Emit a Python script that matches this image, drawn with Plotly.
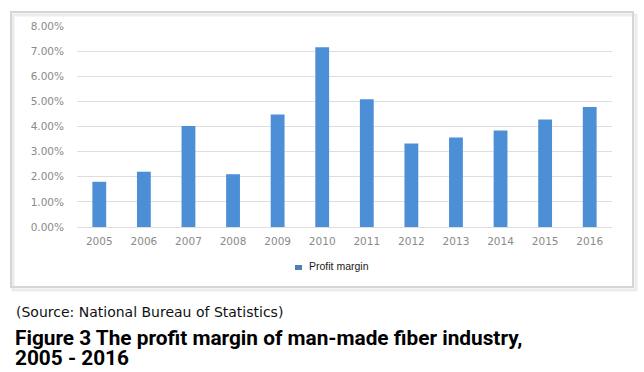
import plotly.graph_objects as go

years = ["2005", "2006", "2007", "2008", "2009", "2010",
         "2011", "2012", "2013", "2014", "2015", "2016"]
profit_margin = [1.80, 2.20, 4.02, 2.10, 4.48, 7.15,
                 5.08, 3.32, 3.56, 3.84, 4.28, 4.78]
series_name = "Profit margin"
source_text = "(Source: National Bureau of Statistics)"
title_line1 = "Figure 3 The profit margin of man-made fiber industry,"
title_line2 = "2005 - 2016"

W, H = 644, 372
L, R, T, B = 77, 32, 26, 145
PW, PH = W - L - R, H - T - B


def px(x):
    return (x - L) / PW


def py(y):
    return (H - B - y) / PH


fig = go.Figure()
fig.add_trace(go.Bar(x=years, y=profit_margin, name=series_name,
                     marker=dict(color="#4C8FD6", line=dict(width=0)),
                     showlegend=False))

tickfont = dict(family="DejaVu Sans, Liberation Sans, sans-serif", size=10.5, color="#8a8a8a")

fig.update_layout(
    width=W, height=H,
    margin=dict(l=L, r=R, t=T, b=B),
    paper_bgcolor="white", plot_bgcolor="white",
    bargap=0.69,
    xaxis=dict(type="category", tickfont=tickfont, showgrid=False,
               showline=False, ticks="", ticklabelstandoff=6),
    yaxis=dict(range=[0, 8], dtick=1, tickformat=".2f", ticksuffix="%",
               tickfont=tickfont, gridcolor="#dedede", gridwidth=1,
               zeroline=True, zerolinecolor="#dedede", zerolinewidth=1,
               showline=False, ticks="", ticklabelstandoff=12),
)

shapes = [
    # shadow
    dict(type="rect", xref="paper", yref="paper",
         x0=px(13), x1=px(636), y0=py(15), y1=py(290),
         line=dict(color="#ececec", width=3), fillcolor="rgba(0,0,0,0)", layer="below"),
    # chart frame
    dict(type="rect", xref="paper", yref="paper",
         x0=px(11), x1=px(633), y0=py(12), y1=py(287),
         line=dict(color="#d6d6d6", width=2), fillcolor="rgba(0,0,0,0)", layer="below"),
    # legend swatch
    dict(type="rect", xref="paper", yref="paper",
         x0=px(295), x1=px(302), y0=py(265), y1=py(270),
         line=dict(width=0), fillcolor="#4C80B8"),
]
fig.update_layout(shapes=shapes)

title_font = dict(family="Roboto, Liberation Sans, sans-serif", size=20.8,
                  color="#000000", weight=700)
annotations = [
    dict(text=series_name, xref="paper", yref="paper", x=px(307), y=py(266),
         xanchor="left", yanchor="middle", showarrow=False,
         font=dict(family="Liberation Sans, Arial, sans-serif", size=10.5, color="#1a1a1a")),
    dict(text=source_text, xref="paper", yref="paper", x=px(14), y=py(312),
         xanchor="left", yanchor="middle", showarrow=False,
         font=dict(family="DejaVu Sans, sans-serif", size=14, color="#111111")),
    dict(text=title_line1, xref="paper", yref="paper", x=px(13), y=py(338),
         xanchor="left", yanchor="middle", showarrow=False, font=title_font),
    dict(text=title_line2, xref="paper", yref="paper", x=px(13), y=py(358),
         xanchor="left", yanchor="middle", showarrow=False, font=title_font),
]
fig.update_layout(annotations=annotations)

fig.write_html("out.html", config={"displayModeBar": False},
               post_script="document.body.style.margin='0px';document.body.style.overflow='hidden';")
